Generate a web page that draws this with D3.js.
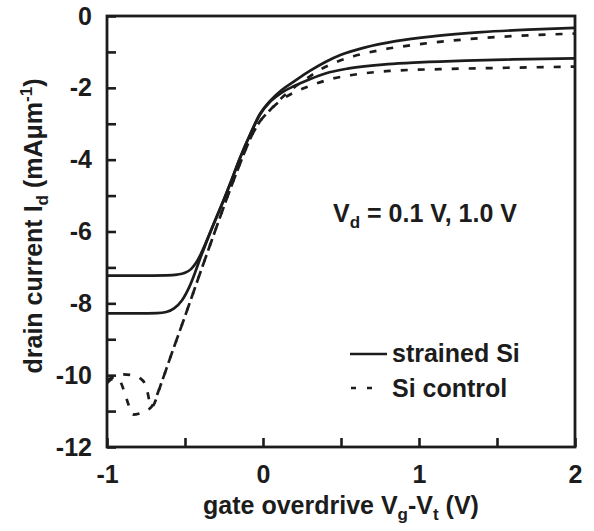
<!DOCTYPE html>
<html>
<head>
<meta charset="utf-8">
<script src="https://cdn.jsdelivr.net/npm/d3@7"></script>
<style>
  html, body { margin: 0; padding: 0; background: #fff; }
  svg { display: block; }
  text { font-family: "Liberation Sans", Arial, Helvetica, sans-serif; font-weight: bold; fill: #1c1c1c; }
</style>
</head>
<body>
<svg id="chart" width="594" height="531"></svg>
<script>
// ---- data ----
const xDomain = [-1, 2];
const yDomain = [-12, 0];
const xTickValues = [-1, -0.5, 0, 0.5, 1, 1.5, 2];
const xTickLabels = ["-1", "", "0", "", "1", "", "2"];
const yTickValues = [-12, -11, -10, -9, -8, -7, -6, -5, -4, -3, -2, -1, 0];
const yTickLabels = ["-12", "", "-10", "", "-8", "", "-6", "", "-4", "", "-2", "", "0"];

// strained Si (solid)
const strainedLow = [[-1,-7.23],[-0.8,-7.23],[-0.62,-7.22],[-0.55,-7.2],[-0.5,-7.15],[-0.46,-7.04],[-0.43,-6.88],[-0.4,-6.64],[-0.37,-6.35],[-0.31,-5.72],[-0.25,-5.1],[-0.2,-4.55],[-0.15,-3.98],[-0.08,-3.28],[-0.02,-2.75],[0.05,-2.37],[0.12,-2.13],[0.2,-1.95],[0.3,-1.76],[0.4,-1.6],[0.55,-1.46],[0.8,-1.34],[1.0,-1.29],[1.3,-1.24],[1.6,-1.21],[2.0,-1.18]];
const strainedHigh = [[-1,-8.28],[-0.8,-8.28],[-0.68,-8.27],[-0.62,-8.24],[-0.57,-8.14],[-0.52,-7.92],[-0.47,-7.52],[-0.43,-7.08],[-0.4,-6.72],[-0.37,-6.38],[-0.31,-5.73],[-0.25,-5.1],[-0.2,-4.55],[-0.15,-3.98],[-0.08,-3.27],[-0.02,-2.73],[0.05,-2.34],[0.12,-2.06],[0.2,-1.82],[0.3,-1.53],[0.4,-1.28],[0.5,-1.08],[0.65,-0.88],[0.85,-0.7],[1.1,-0.56],[1.4,-0.45],[1.7,-0.38],[2.0,-0.33]];
// Si control (dashed)
const controlLow = [[-1,-10.12],[-0.95,-10.05],[-0.9,-9.98],[-0.84,-10.0],[-0.79,-10.08],[-0.75,-10.3],[-0.715,-10.88],[-0.65,-10.2],[-0.6,-9.58],[-0.5,-8.36],[-0.4,-7.12],[-0.3,-5.9],[-0.22,-4.94],[-0.14,-4.03],[-0.08,-3.4],[-0.03,-3.0],[0.045,-2.62],[0.12,-2.33],[0.225,-2.08],[0.33,-1.9],[0.43,-1.76],[0.56,-1.65],[0.81,-1.53],[1.13,-1.48],[1.455,-1.45],[2,-1.41]];
const controlHigh = [[-1,-10.22],[-0.96,-10.1],[-0.92,-10.15],[-0.89,-10.45],[-0.86,-10.85],[-0.835,-11.1],[-0.78,-11.05],[-0.715,-10.88],[-0.65,-10.2],[-0.6,-9.58],[-0.5,-8.36],[-0.4,-7.12],[-0.3,-5.9],[-0.22,-4.94],[-0.14,-4.03],[-0.08,-3.4],[-0.03,-3.0],[0.045,-2.62],[0.12,-2.28],[0.2,-1.99],[0.28,-1.74],[0.365,-1.5],[0.47,-1.28],[0.58,-1.12],[0.75,-0.95],[1.03,-0.77],[1.3,-0.65],[1.52,-0.58],[1.75,-0.53],[2,-0.49]];

const seriesNames = ["strained Si", "Si control"];

// ---- layout ----
const svg = d3.select("#chart");
const mLeft = 107, mRight = 575, mTop = 16, mBottom = 447;
const ink = "#1c1c1c";

const x = d3.scaleLinear().domain(xDomain).range([mLeft, mRight]);
const y = d3.scaleLinear().domain(yDomain).range([mBottom, mTop]);

// axes
const xAxis = d3.axisBottom(x).tickValues(xTickValues)
  .tickFormat((d, i) => xTickLabels[i]).tickSizeInner(-9).tickSizeOuter(0).tickPadding(18);
const yAxis = d3.axisLeft(y).tickValues(yTickValues)
  .tickFormat((d, i) => yTickLabels[i]).tickSizeInner(-9).tickSizeOuter(0).tickPadding(15);

const gx = svg.append("g").attr("transform", `translate(0,${mBottom})`).call(xAxis);
const gy = svg.append("g").attr("transform", `translate(${mLeft},0)`).call(yAxis);
[gx, gy].forEach(g => {
  g.select(".domain").remove();
  g.selectAll(".tick line").attr("stroke", ink).attr("stroke-width", 2.6);
  g.selectAll(".tick text").attr("font-size", 25).attr("fill", ink)
    .style("font-family", '"Liberation Sans", Arial, sans-serif').style("font-weight", "bold");
});

// frame
svg.append("rect").attr("x", mLeft).attr("y", mTop).attr("width", mRight - mLeft).attr("height", mBottom - mTop)
  .attr("fill", "none").attr("stroke", ink).attr("stroke-width", 2.8);

// curves
const line = d3.line().x(d => x(d[0])).y(d => y(d[1])).curve(d3.curveMonotoneX);
const curves = [
  {data: strainedLow, dash: null},
  {data: strainedHigh, dash: null},
  {data: controlLow, dash: "7,10"},
  {data: controlHigh, dash: "7,10"}
];
svg.append("g").selectAll("path").data(curves).join("path")
  .attr("d", d => line(d.data))
  .attr("fill", "none").attr("stroke", ink).attr("stroke-width", 2.7)
  .attr("stroke-dasharray", d => d.dash);

// annotation V_d = 0.1 V, 1.0 V
const ann = svg.append("text").attr("x", 333).attr("y", 222).attr("font-size", 25);
ann.append("tspan").text("V");
ann.append("tspan").attr("font-size", 17).attr("dy", 6).text("d");
ann.append("tspan").attr("dy", -6).text(" = 0.1 V, 1.0 V");

// legend
svg.append("line").attr("x1", 350).attr("x2", 387).attr("y1", 354).attr("y2", 354)
  .attr("stroke", ink).attr("stroke-width", 2.7);
svg.append("text").attr("x", 392).attr("y", 362).attr("font-size", 25).text(seriesNames[0]);
svg.append("line").attr("x1", 351).attr("x2", 373).attr("y1", 388).attr("y2", 388)
  .attr("stroke", ink).attr("stroke-width", 2.7).attr("stroke-dasharray", "5,11");
svg.append("text").attr("x", 392).attr("y", 397).attr("font-size", 25).text(seriesNames[1]);

// x axis title
const xt = svg.append("text").attr("x", 341).attr("y", 514).attr("text-anchor", "middle").attr("font-size", 25);
xt.append("tspan").text("gate overdrive V");
xt.append("tspan").attr("font-size", 17).attr("dy", 6).text("g");
xt.append("tspan").attr("dy", -6).text("-V");
xt.append("tspan").attr("font-size", 17).attr("dy", 6).text("t");
xt.append("tspan").attr("dy", -6).text(" (V)");

// y axis title
const yt = svg.append("text").attr("transform", "translate(42,226) rotate(-90)")
  .attr("text-anchor", "middle").attr("font-size", 25);
yt.append("tspan").text("drain current I");
yt.append("tspan").attr("font-size", 17).attr("dy", 6).text("d");
yt.append("tspan").attr("dy", -6).text(" (mAμm");
yt.append("tspan").attr("font-size", 17).attr("dy", -10).text("-1");
yt.append("tspan").attr("dy", 10).text(")");
</script>
</body>
</html>
